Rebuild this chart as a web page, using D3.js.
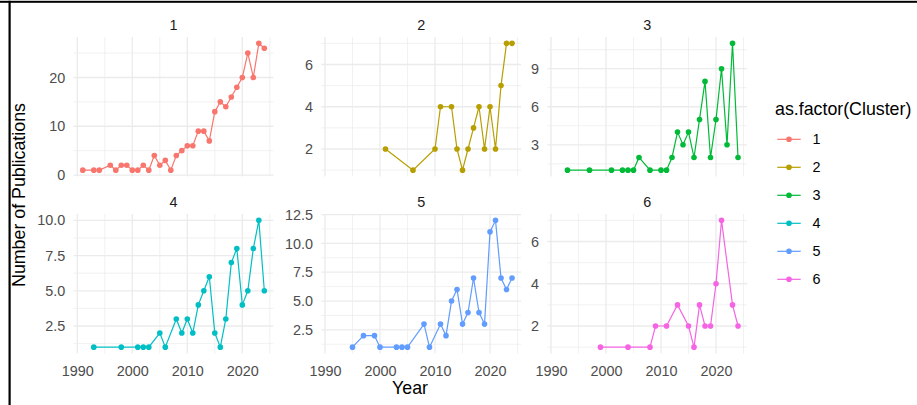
<!DOCTYPE html>
<html>
<head>
<meta charset="utf-8">
<script src="https://cdn.jsdelivr.net/npm/d3@7"></script>
<style>
  body { margin: 0; background: #fff; }
  svg { display: block; font-family: "Liberation Sans", Arial, sans-serif; }
</style>
</head>
<body>
<svg id="chart" width="917" height="405"></svg>
<script>
// Publications per year, one series per cluster
const clusters = ["1", "2", "3", "4", "5", "6"];
const colors = ["#F8766D", "#B79F00", "#00BA38", "#00BFC4", "#619CFF", "#F564E3"];

const years1 = [1991,1993,1994,1996,1997,1998,1999,2000,2001,2002,2003,2004,2005,2006,2007,2008,2009,2010,2011,2012,2013,2014,2015,2016,2017,2018,2019,2020,2021,2022,2023,2024];
const counts1 = [1,1,1,2,1,2,2,1,1,2,1,4,2,3,1,4,5,6,6,9,9,7,13,15,14,16,18,20,25,20,27,26];

const years2 = [2001,2006,2010,2011,2013,2014,2015,2016,2017,2018,2019,2020,2021,2022,2023,2024];
const counts2 = [2,1,2,4,4,2,1,2,3,4,2,4,2,5,7,7];

const years3 = [1993,1997,2001,2003,2004,2005,2006,2008,2010,2011,2012,2013,2014,2015,2016,2017,2018,2019,2020,2021,2022,2023,2024];
const counts3 = [1,1,1,1,1,1,2,1,1,1,2,4,3,4,2,5,8,2,5,9,3,11,2];

const years4 = [1993,1998,2001,2002,2003,2005,2006,2008,2009,2010,2011,2012,2013,2014,2015,2016,2017,2018,2019,2020,2021,2022,2023,2024];
const counts4 = [1,1,1,1,1,2,1,3,2,3,2,4,5,6,2,1,3,7,8,4,5,8,10,5];

const years5 = [1995,1997,1999,2000,2003,2004,2005,2008,2009,2011,2012,2013,2014,2015,2016,2017,2018,2019,2020,2021,2022,2023,2024];
const counts5 = [1,2,2,1,1,1,1,3,1,3,2,5,6,3,4,7,4,3,11,12,7,6,7];

const years6 = [1999,2004,2008,2009,2011,2013,2015,2016,2017,2018,2019,2020,2021,2023,2024];
const counts6 = [1,1,1,2,2,3,2,1,3,2,2,4,7,3,2];

const xTicks = [1990, 2000, 2010, 2020];
const yTicks1 = [0, 10, 20];
const yTicks2 = [2, 4, 6];
const yTicks3 = [3, 6, 9];
const yTicks4 = [2.5, 5, 7.5, 10];
const yTicks5 = [2.5, 5, 7.5, 10, 12.5];
const yTicks6 = [2, 4, 6];

const allYears = [years1, years2, years3, years4, years5, years6];
const allCounts = [counts1, counts2, counts3, counts4, counts5, counts6];
const allYTicks = [yTicks1, yTicks2, yTicks3, yTicks4, yTicks5, yTicks6];

const panels = clusters.map((c, i) => ({
  name: c,
  color: colors[i],
  yTicks: allYTicks[i],
  data: allYears[i].map((y, k) => ({ year: y, n: allCounts[i][k] }))
}));

// facet layout (2 rows x 3 columns)
const colLeft = [73.7, 321.4, 547.4];
const rowTop = [37, 214];
const panelW = 199.7, panelH = 139.5;

const svg = d3.select("#chart");
svg.append("rect").attr("width", 917).attr("height", 405).attr("fill", "#fff");

// padded range helper (5% on each side)
function expand(ext) {
  const d = (ext[1] - ext[0]) * 0.05;
  return [ext[0] - d, ext[1] + d];
}

// shared x scale domain
const xDomain = expand(d3.extent(allYears.flat()));

function minorOf(ticks, domain) {
  const step = ticks.length > 1 ? ticks[1] - ticks[0] : 1;
  const out = [];
  const first = ticks[0] - step / 2;
  for (let v = first; v <= domain[1] + 1e-9; v += step) {
    if (v >= domain[0]) out.push(v);
  }
  return out;
}

const gridCol = "#EBEBEB";
const tickCol = "#4D4D4D";

panels.forEach((p, i) => {
  const col = i % 3, row = Math.floor(i / 3);
  const g = svg.append("g")
    .attr("transform", `translate(${colLeft[col]},${rowTop[row]})`);

  const x = d3.scaleLinear().domain(xDomain).range([0, panelW]);
  const yDomain = expand(d3.extent(p.data, d => d.n));
  const y = d3.scaleLinear().domain(yDomain).range([panelH, 0]);

  // grid
  const xMinor = minorOf(xTicks, xDomain);
  const yMinor = minorOf(p.yTicks, yDomain);
  g.selectAll(".gxm").data(xMinor).join("line")
    .attr("x1", d => x(d)).attr("x2", d => x(d)).attr("y1", 0).attr("y2", panelH)
    .attr("stroke", gridCol).attr("stroke-width", 0.7);
  g.selectAll(".gym").data(yMinor).join("line")
    .attr("y1", d => y(d)).attr("y2", d => y(d)).attr("x1", 0).attr("x2", panelW)
    .attr("stroke", gridCol).attr("stroke-width", 0.7);
  g.selectAll(".gx").data(xTicks).join("line")
    .attr("x1", d => x(d)).attr("x2", d => x(d)).attr("y1", 0).attr("y2", panelH)
    .attr("stroke", gridCol).attr("stroke-width", 1.3);
  g.selectAll(".gy").data(p.yTicks).join("line")
    .attr("y1", d => y(d)).attr("y2", d => y(d)).attr("x1", 0).attr("x2", panelW)
    .attr("stroke", gridCol).attr("stroke-width", 1.3);

  // y axis labels
  const decimals = p.yTicks.some(t => !Number.isInteger(t)) ? 1 : 0;
  const yAxis = g.append("g").call(
    d3.axisLeft(y).tickValues(p.yTicks).tickSize(0).tickPadding(8.5)
      .tickFormat(d => d.toFixed(decimals)));
  yAxis.select(".domain").remove();
  yAxis.selectAll("text")
    .attr("font-family", "Liberation Sans, Arial, sans-serif")
    .attr("font-size", 14.4).attr("fill", tickCol);

  // x axis labels on the bottom row
  if (row === 1) {
    const xAxis = g.append("g").attr("transform", `translate(0,${panelH})`).call(
      d3.axisBottom(x).tickValues(xTicks).tickSize(0).tickPadding(12)
        .tickFormat(d3.format("d")));
    xAxis.select(".domain").remove();
    xAxis.selectAll("text")
      .attr("font-family", "Liberation Sans, Arial, sans-serif")
      .attr("font-size", 14.4).attr("fill", tickCol);
  }

  // strip label
  g.append("text")
    .attr("x", panelW / 2).attr("y", row === 0 ? -7.5 : -6.7)
    .attr("text-anchor", "middle").attr("font-size", 14.4).attr("fill", "#1A1A1A")
    .text(p.name);

  // line + points
  const line = d3.line().x(d => x(d.year)).y(d => y(d.n));
  g.append("path").datum(p.data)
    .attr("d", line).attr("fill", "none")
    .attr("stroke", p.color).attr("stroke-width", 1.2);
  g.selectAll(".pt").data(p.data).join("circle")
    .attr("cx", d => x(d.year)).attr("cy", d => y(d.n)).attr("r", 2.8)
    .attr("fill", p.color);
});

// axis titles
svg.append("text")
  .attr("x", 410).attr("y", 394)
  .attr("text-anchor", "middle").attr("font-size", 17.8).attr("fill", "#000")
  .text("Year");
svg.append("text")
  .attr("transform", "translate(25,195) rotate(-90)")
  .attr("text-anchor", "middle").attr("font-size", 17.8).attr("fill", "#000")
  .text("Number of Publications");

// legend
const legend = svg.append("g").attr("transform", "translate(775,0)");
legend.append("text")
  .attr("x", 0).attr("y", 114.5).attr("font-size", 17.8).attr("fill", "#000")
  .text("as.factor(Cluster)");
const keys = legend.selectAll(".key").data(clusters).join("g")
  .attr("transform", (d, i) => `translate(0,${139.3 + i * 28})`);
keys.append("line")
  .attr("x1", 2.3).attr("x2", 25.7).attr("y1", 0).attr("y2", 0)
  .attr("stroke", (d, i) => colors[i]).attr("stroke-width", 1.2);
keys.append("circle")
  .attr("cx", 14).attr("cy", 0).attr("r", 2.8)
  .attr("fill", (d, i) => colors[i]);
keys.append("text")
  .attr("x", 37.5).attr("y", 0).attr("dy", "0.35em")
  .attr("font-size", 14.4).attr("fill", "#000")
  .text(d => d);

// screenshot frame edges (top and left)
svg.append("rect").attr("x", 0).attr("y", 0.8).attr("width", 917).attr("height", 2).attr("fill", "#000");
svg.append("rect").attr("x", 8.5).attr("y", 0.8).attr("width", 2.2).attr("height", 405).attr("fill", "#000");
</script>
</body>
</html>
